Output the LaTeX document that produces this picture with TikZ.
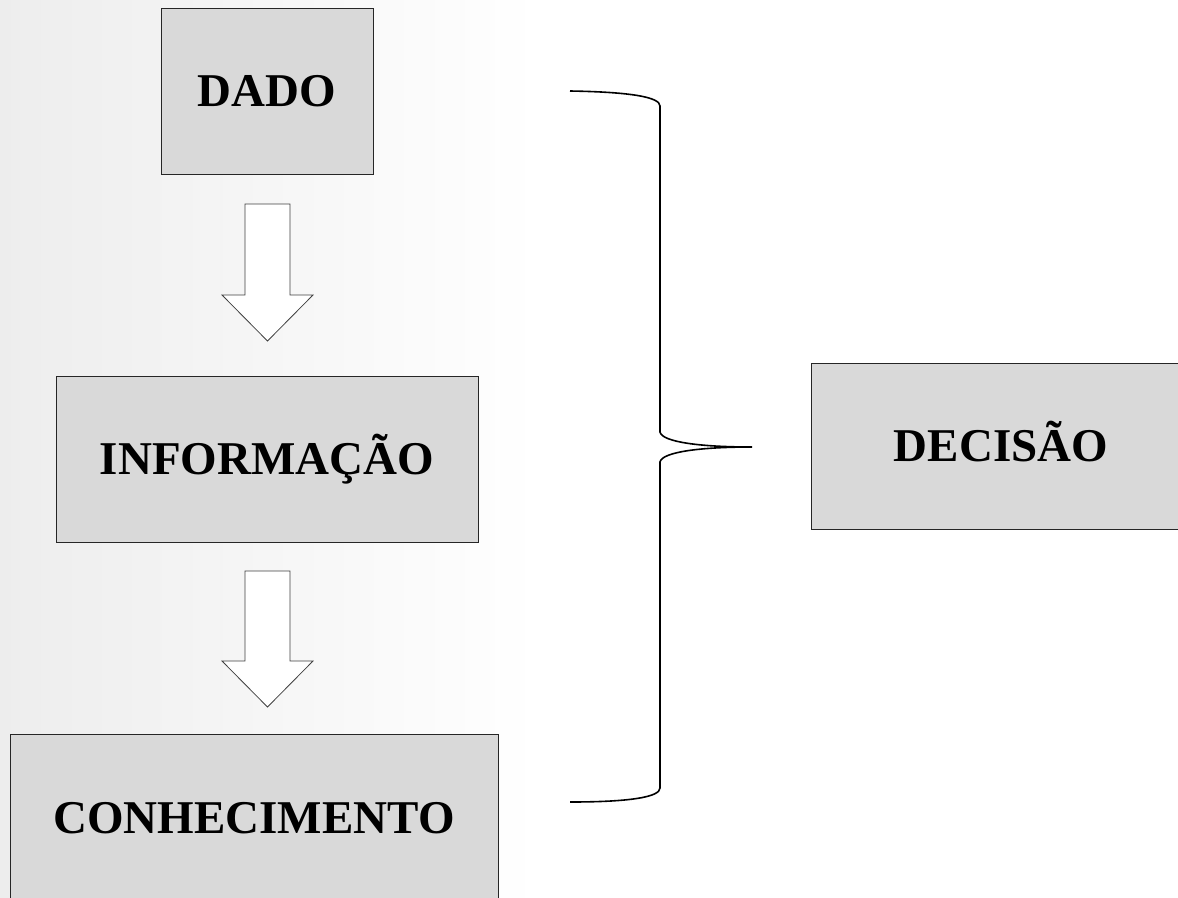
\documentclass[tikz,border=0pt]{standalone}
\usepackage{fontspec}
\setmainfont{Liberation Serif}
\begin{document}
\begin{tikzpicture}[x=1pt,y=-1pt,
  box/.style={draw=black!85, line width=1pt, fill=boxgray, rectangle, inner sep=0pt,
    font=\fontsize{47}{50}\selectfont\bfseries, text height=31pt, text depth=0pt},
  blockarrow/.style={draw=black!75, line width=0.8pt, fill=white},
  bracestyle/.style={draw=black, line width=1.6pt}]
\definecolor{boxgray}{HTML}{D9D9D9}
\useasboundingbox (0,0) rectangle (1178,897);
\fill[left color=black!7, right color=white] (0,0) rectangle (540,897);
% boxes
\node[box, minimum width=212pt, minimum height=166pt] (dado) at (267,91) {DADO};
\node[box, minimum width=422pt, minimum height=166pt] (info) at (267,459) {INFORMAÇÃO};
\node[box, minimum width=488pt, minimum height=168pt] (conh) at (254,818) {CONHECIMENTO};
\node[box, minimum width=380pt, minimum height=166pt] (deci) at (1001,446) {DECISÃO};
% block arrows
\draw[blockarrow] (245,204) -- (290,204) -- (290,295) -- (313,295) -- (267.5,341) -- (222,295) -- (245,295) -- cycle;
\draw[blockarrow] (245,571) -- (290,571) -- (290,661) -- (313,661) -- (267.5,707) -- (222,661) -- (245,661) -- cycle;
% brace
\coordinate (btop) at (570,91);
\coordinate (bbot) at (570,802);
\coordinate (btip) at (752,447);
\draw[bracestyle] (btop) .. controls (630,92) and (660,97) .. (660,106)
  -- (660,432) .. controls (662,442) and (700,447) .. (btip)
  .. controls (700,447) and (662,452) .. (660,462)
  -- (660,788) .. controls (660,797) and (630,802) .. (bbot);
\end{tikzpicture}
\end{document}
